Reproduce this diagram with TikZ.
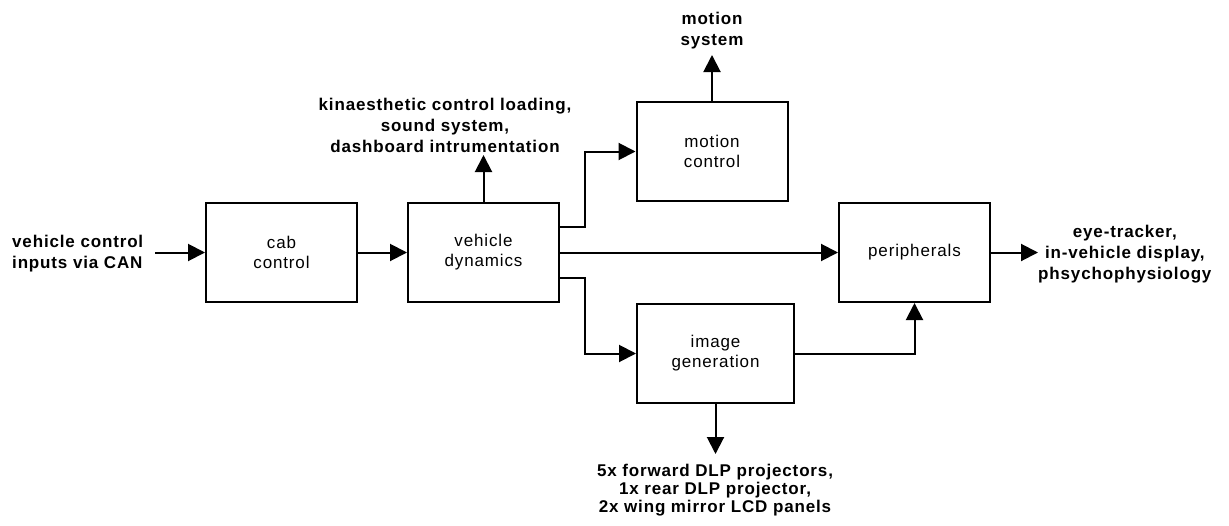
\documentclass[tikz,border=0pt]{standalone}
\usepackage{fontspec}
\setmainfont{Liberation Sans}
\newfontfamily\dfont{Liberation Sans}[LetterSpace=5]
\usetikzlibrary{arrows.meta}
\begin{document}
\begin{tikzpicture}[x=1pt,y=-1pt,
  font=\dfont\fontsize{17}{20}\selectfont,
  block/.style={draw,line width=2pt,minimum width=151pt,minimum height=99pt,
    align=center,inner sep=0pt},
  extlabel/.style={font=\dfont\bfseries\fontsize{17}{21}\selectfont,align=center,inner sep=2pt},
  flow/.style={line width=2pt,-{Triangle[length=17pt,width=17pt]}}]
\useasboundingbox (0,0) rectangle (1229,525);

% processing blocks
\node[block] (cab) at (281.5,252.5) {cab\\control};
\node[block] (vd)  at (483.5,252.5) {vehicle\\dynamics};
\node[block] (mc)  at (712,151.5) {motion\\control};
\node[block] (per) at (914.5,252.5) {peripherals};
\node[block,minimum width=157pt] (ig) at (715.5,353.5) {image\\generation};

% external inputs and outputs
\node[extlabel,align=left,anchor=west] (in) at (10,254)
  {vehicle control\\inputs via CAN};
\node[extlabel,anchor=south] (kin) at (445,155)
  {kinaesthetic control loading,\\sound system,\\dashboard intrumentation};
\node[extlabel,anchor=south] (ms) at (712,51) {motion\\system};
\node[extlabel,anchor=west] (eye) at (1036,254)
  {eye-tracker,\\in-vehicle display,\\phsychophysiology};
\node[extlabel,anchor=north,font=\dfont\bfseries\fontsize{17}{18}\selectfont] (bot) at (715,462)
  {5x forward DLP projectors,\\1x rear DLP projector,\\2x wing mirror LCD panels};

% signal flow
\draw[flow] ([xshift=10pt]in.east |- cab.west) -- (cab.west);
\draw[flow] (cab.east) -- (vd.west);
\draw[flow] (vd.north) -- (vd.north |- kin.south);
\draw[flow] ([yshift=25.5pt]vd.east) -- ++(25,0) |- (mc.west);
\draw[flow] (vd.east) -- (per.west);
\draw[flow] ([yshift=-25.5pt]vd.east) -- ++(25,0) |- (ig.west);
\draw[flow] (ig.east) -| (per.south);
\draw[flow] (mc.north) -- ([yshift=-4pt]ms.south);
\draw[flow] (ig.south) -- ([yshift=8pt]ig.south |- bot.north);
\draw[flow] (per.east) -- ([xshift=2pt]per.east -| eye.west);
\end{tikzpicture}
\end{document}
